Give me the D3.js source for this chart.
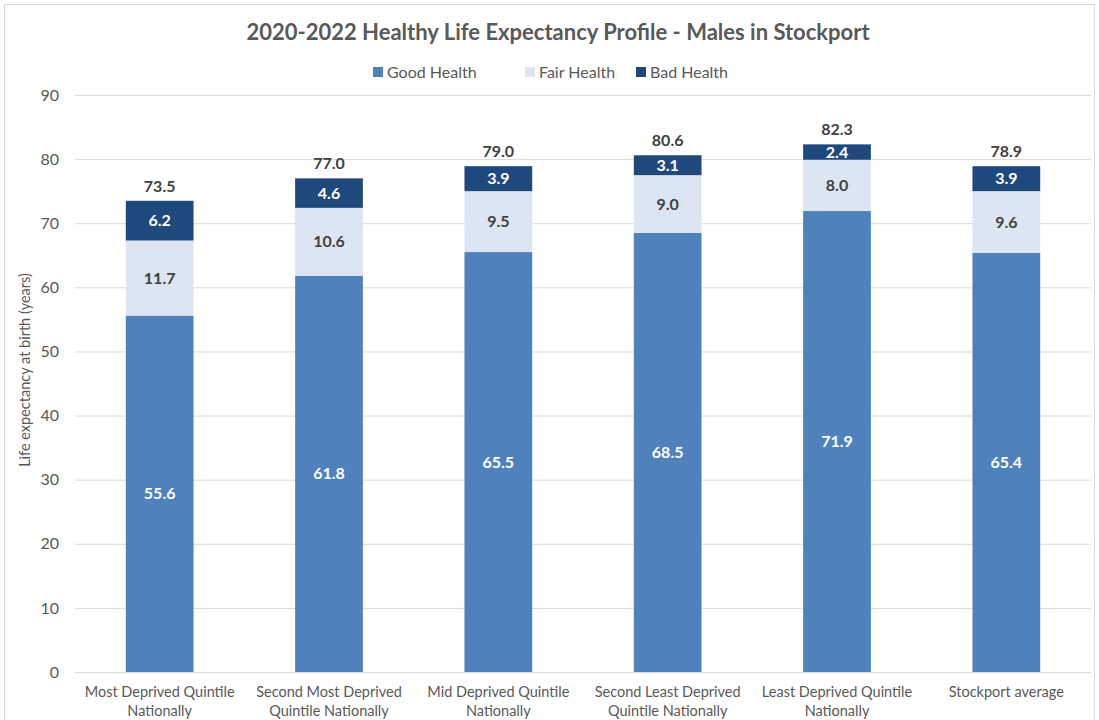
<!DOCTYPE html>
<html><head><meta charset="utf-8">
<script src="https://cdn.jsdelivr.net/npm/d3@7"></script>
<style>body{margin:0;background:#fff;} text{font-family:Lato,"Open Sans",sans-serif;}</style>
</head><body><svg id="c" width="1099" height="720"></svg>
<script>
const categories = [["Most Deprived Quintile","Nationally"],["Second Most Deprived","Quintile Nationally"],["Mid Deprived Quintile","Nationally"],["Second Least Deprived","Quintile Nationally"],["Least Deprived Quintile","Nationally"],["Stockport average"]];
const goodHealth = [55.6,61.8,65.5,68.5,71.9,65.4];
const fairHealth = [11.7,10.6,9.5,9.0,8.0,9.6];
const badHealth = [6.2,4.6,3.9,3.1,2.4,3.9];
const totals = [73.5,77.0,79.0,80.6,82.3,78.9];
const seriesNames = ["Good Health","Fair Health","Bad Health"];
const yTicks = [0,10,20,30,40,50,60,70,80,90];
const colors = ["#4F81BD","#DCE6F2","#1F497D"];
const labelColors = ["#ffffff","#404040","#ffffff"];

const svg = d3.select("#c");
svg.append("rect").attr("x",4.5).attr("y",4.5).attr("width",1090).attr("height",720).attr("fill","#fff").attr("stroke","#d9d9d9");

const x = d3.scaleBand().domain(d3.range(categories.length)).range([75,1091]).paddingInner(0.6).paddingOuter(0.3);
const y = d3.scaleLinear().domain([0,90]).range([672,95]);

// grid
svg.append("g").selectAll("line").data(yTicks).join("line")
  .attr("x1",75).attr("x2",1091).attr("y1",d=>y(d)+0.5).attr("y2",d=>y(d)+0.5)
  .attr("stroke","#d9d9d9").attr("stroke-width",1);

const yAxis = svg.append("g").attr("transform","translate(59,0)").call(d3.axisLeft(y).tickValues(yTicks).tickSize(0).tickPadding(0));
yAxis.select(".domain").remove();
yAxis.selectAll("text").attr("fill","#595959").style("font-size","16px").style("font-family","Lato,sans-serif");

// stacks
const data = categories.map((c,i)=>({i, good:goodHealth[i], fair:fairHealth[i], bad:badHealth[i]}));
const stack = d3.stack().keys(["good","fair","bad"])(data);
const g = svg.append("g");
stack.forEach((s,si)=>{
  g.append("g").selectAll("rect").data(s).join("rect")
    .attr("x",d=>x(d.data.i)).attr("width",x.bandwidth())
    .attr("y",d=>y(d[1])).attr("height",d=>y(d[0])-y(d[1]))
    .attr("fill",colors[si]);
  g.append("g").selectAll("text").data(s).join("text")
    .attr("x",d=>x(d.data.i)+x.bandwidth()/2)
    .attr("y",d=>(y(d[0])+y(d[1]))/2).attr("dy","0.35em")
    .attr("text-anchor","middle").attr("fill",labelColors[si])
    .style("font-size","16px").style("font-weight","bold")
    .text(d=>(d[1]-d[0]).toFixed(1));
});
// totals
g.append("g").selectAll("text").data(totals).join("text")
  .attr("x",(d,i)=>x(i)+x.bandwidth()/2)
  .attr("y",(d,i)=>y(stack[2][i][1])-9)
  .attr("text-anchor","middle").attr("fill","#404040")
  .style("font-size","16px").style("font-weight","bold")
  .text(d=>d.toFixed(1));

// x labels
const xl = svg.append("g");
categories.forEach((c,i)=>{
  const t = xl.append("text").attr("x",x(i)+x.bandwidth()/2).attr("y",697)
    .attr("text-anchor","middle").attr("fill","#595959").style("font-size","14.5px");
  c.forEach((line,li)=>t.append("tspan").attr("x",x(i)+x.bandwidth()/2).attr("dy",li?19:0).text(line));
});

// y title
svg.append("text").attr("transform","translate(30,370) rotate(-90)").attr("text-anchor","middle")
  .attr("fill","#595959").style("font-size","14.5px").text("Life expectancy at birth (years)");

// title
svg.append("text").attr("x",558).attr("y",40).attr("text-anchor","middle").attr("fill","#595959")
  .style("font-size","22px").style("font-weight","bold").text("2020-2022 Healthy Life Expectancy Profile - Males in Stockport");

// legend
const legX = [373,525,636];
seriesNames.forEach((n,i)=>{
  svg.append("rect").attr("x",legX[i]).attr("y",67).attr("width",10).attr("height",10).attr("fill",colors[i]);
  svg.append("text").attr("x",legX[i]+14).attr("y",78).attr("fill","#595959").style("font-size","16px").text(n);
});
</script></body></html>
